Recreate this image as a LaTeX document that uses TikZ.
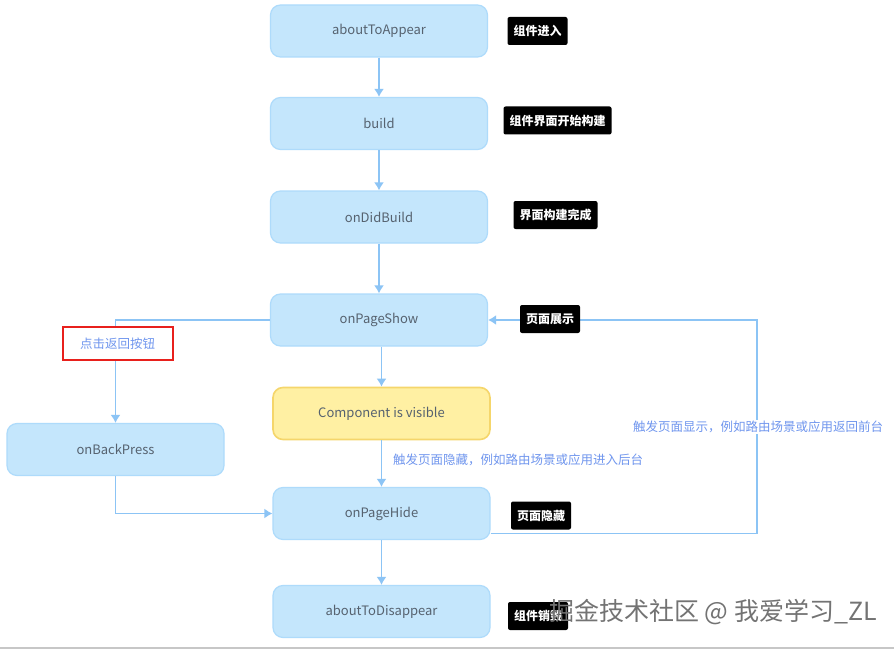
\documentclass[tikz,border=0pt]{standalone}
\usepackage{fontspec}
\setmainfont{Noto Sans CJK SC}
\usetikzlibrary{arrows.meta}
\definecolor{nfill}{HTML}{C4E6FC}
\definecolor{nline}{HTML}{AEDBFB}
\definecolor{yfill}{HTML}{FFF0A3}
\definecolor{yline}{HTML}{F5D66B}
\definecolor{arrc}{HTML}{8CC4F5}
\definecolor{ntext}{HTML}{56626F}
\definecolor{btext}{HTML}{7096EE}
\definecolor{redb}{HTML}{E8201C}
\begin{document}
\begin{tikzpicture}[x=1pt,y=-1pt,
  blk/.style={draw=nline,fill=nfill,rounded corners=10pt,line width=1.2pt,
    minimum width=217pt,minimum height=52pt,text=ntext,
    font=\fontsize{13}{15}\selectfont,inner sep=0pt},
  vis/.style={blk,draw=yline,fill=yfill,line width=1.6pt},
  tag/.style={fill=black,text=white,rounded corners=2pt,inner xsep=6pt,
    minimum height=28pt,font=\fontsize{12}{14}\selectfont\bfseries},
  bluetxt/.style={text=btext,font=\fontsize{12.5}{14}\selectfont,inner sep=1pt},
  arr/.style={draw=arrc,line width=1.8pt,-{Latex[length=8pt,width=10pt]}}]
\useasboundingbox[fill=white] (0,0) rectangle (894,650);
\draw[line width=2pt,draw=black!22] (0,648) -- (894,648);

% main nodes
\node[blk] (ata) at (379,31) {aboutToAppear};
\node[blk] (bld) at (379,123.5) {build};
\node[blk] (odb) at (379,217) {onDidBuild};
\node[blk] (ops) at (379,320) {onPageShow};
\node[vis] (cv) at (381.5,413.5) {Component is visible};
\node[blk] (obp) at (115.5,449.5) {onBackPress};
\node[blk] (oph) at (381.5,513.5) {onPageHide};
\node[blk] (atd) at (381.5,611.5) {aboutToDisappear};

% vertical connectors
\draw[arr] (ata) -- (bld);
\draw[arr] (bld) -- (odb);
\draw[arr] (odb) -- (ops);
\draw[arr] (cv.north |- ops.south) -- (cv.north);
\draw[arr] (cv) -- (oph);
\draw[arr] (oph) -- (atd);

% back press path
\draw[arr] (ops.west) -| (obp.north);
\draw[arr] (obp.south) |- (oph.west);

% right loop
\coordinate (rc) at (757,320);
\draw[arr] ([yshift=-20pt]oph.east) -| (rc) -- (ops.east);

% labels
\node[draw=redb,line width=2pt,fill=white,minimum width=110pt,minimum height=33pt,
  text=btext,font=\fontsize{12.5}{14}\selectfont] (back) at (117.5,343.5) {点击返回按钮};
\node[bluetxt,fill=white] (show) at (758,427) {触发页面显示，例如路由场景或应用返回前台};
\node[bluetxt,anchor=west] (hide) at (392,460) {触发页面隐藏，例如路由场景或应用进入后台};

\node[tag] (t1) at (537.5,31) {组件进入};
\node[tag] (t2) at (557.5,120.5) {组件界面开始构建};
\node[tag] (t3) at (555.5,215) {界面构建完成};
\node[tag] (t4) at (550,319) {页面展示};
\node[tag] (t5) at (541,515.5) {页面隐藏};
\node[tag] (t6) at (538,616) {组件销毁};

% watermark
\node[anchor=west,text=black!55,font=\fontsize{25}{28}\selectfont,inner sep=0pt] (wm)
  at (549,612) {掘金技术社区 @ 我爱学习\_ZL};
\end{tikzpicture}
\end{document}
